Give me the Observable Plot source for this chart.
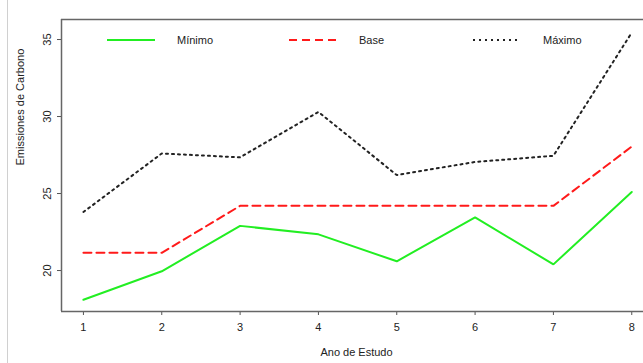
<!DOCTYPE html>
<html>
<head>
<meta charset="utf-8">
<script src="https://cdn.jsdelivr.net/npm/d3@7"></script>
<script src="https://cdn.jsdelivr.net/npm/@observablehq/plot@0.6"></script>
<style>
  html, body { margin: 0; padding: 0; background: #fff; }
  body { width: 643px; height: 363px; overflow: hidden; position: relative; font-family: "Liberation Sans", Arial, sans-serif; }
  #border { position: absolute; left: 7px; top: 0; width: 1px; height: 363px; background: #d0d0d0; }
  #legend { position: absolute; top: 31px; left: 0; width: 643px; height: 18px; font-size: 11px; color: #222; }
  .item { position: absolute; display: flex; align-items: center; }
  .item svg { display: block; }
</style>
</head>
<body>
<div id="chart"></div>
<div id="border"></div>
<div id="legend"></div>
<script>
const years = [1, 2, 3, 4, 5, 6, 7, 8];
const minimo = [18.1, 19.95, 22.9, 22.35, 20.6, 23.45, 20.4, 25.1];
const base = [21.15, 21.15, 24.2, 24.2, 24.2, 24.2, 24.2, 28.05];
const maximo = [23.8, 27.6, 27.35, 30.3, 26.2, 27.05, 27.45, 35.45];
const seriesNames = ["Mínimo", "Base", "Máximo"];
const yTicks = [20, 25, 30, 35];

const styles = {
  "Mínimo": {stroke: "#22ee22", dash: null},
  "Base": {stroke: "#ff1a1a", dash: "8,5"},
  "Máximo": {stroke: "#222222", dash: "2,4"}
};

const rows = [];
[minimo, base, maximo].forEach((arr, i) => {
  arr.forEach((v, j) => rows.push({serie: seriesNames[i], ano: years[j], valor: v}));
});

const lineMark = (name) => Plot.line(rows.filter(d => d.serie === name), {
  x: "ano", y: "valor",
  stroke: styles[name].stroke,
  strokeWidth: 2,
  strokeDasharray: styles[name].dash,
  strokeLinejoin: "miter"
});

const chart = Plot.plot({
  width: 643,
  height: 363,
  marginLeft: 61,
  marginRight: 0,
  marginTop: 19,
  marginBottom: 52,
  style: {fontFamily: "Liberation Sans, Arial, sans-serif", fontSize: "11px", color: "#222", background: "#fff"},
  x: {domain: [0.72, 8.15], label: null},
  y: {domain: [17.34, 36.3], label: null},
  marks: [
    Plot.axisX({ticks: years, tickSize: 4, tickPadding: 8, stroke: "#555", fontSize: 11, tickFormat: d => String(d)}),
    Plot.axisY({ticks: yTicks, tickSize: 4, tickPadding: 7, tickRotate: -90, stroke: "#555", fontSize: 11}),
    Plot.ruleY([17.34], {stroke: "#666", strokeWidth: 1.5}),
    Plot.ruleY([36.3], {stroke: "#666", strokeWidth: 1.5}),
    Plot.ruleX([0.72], {stroke: "#666", strokeWidth: 1.5}),
    ...seriesNames.map(lineMark),
    Plot.text(["Ano de Estudo"], {frameAnchor: "bottom", dx: 4, dy: 44, fontSize: 11, fill: "#222"}),
    Plot.text(["Emissiones de Carbono"], {frameAnchor: "left", dx: -41, rotate: -90, fontSize: 11, fill: "#222"})
  ]
});
document.getElementById("chart").appendChild(chart);

// legend
const legendPos = [
  {name: "Mínimo", lineLeft: 107, textLeft: 177},
  {name: "Base", lineLeft: 289, textLeft: 359},
  {name: "Máximo", lineLeft: 473, textLeft: 543}
];
const legend = document.getElementById("legend");
legendPos.forEach(p => {
  const s = styles[p.name];
  const sw = document.createElement("div");
  sw.className = "item";
  sw.style.left = p.lineLeft + "px";
  sw.style.top = "2px";
  sw.innerHTML = `<svg width="48" height="14"><line x1="0" x2="48" y1="7" y2="7" stroke="${s.stroke}" stroke-width="2" ${s.dash ? `stroke-dasharray="${s.dash}"` : ""}/></svg>`;
  legend.appendChild(sw);
  const t = document.createElement("div");
  t.className = "item";
  t.style.left = p.textLeft + "px";
  t.style.top = "2px";
  t.style.height = "14px";
  t.textContent = p.name;
  legend.appendChild(t);
});
</script>
</body>
</html>
